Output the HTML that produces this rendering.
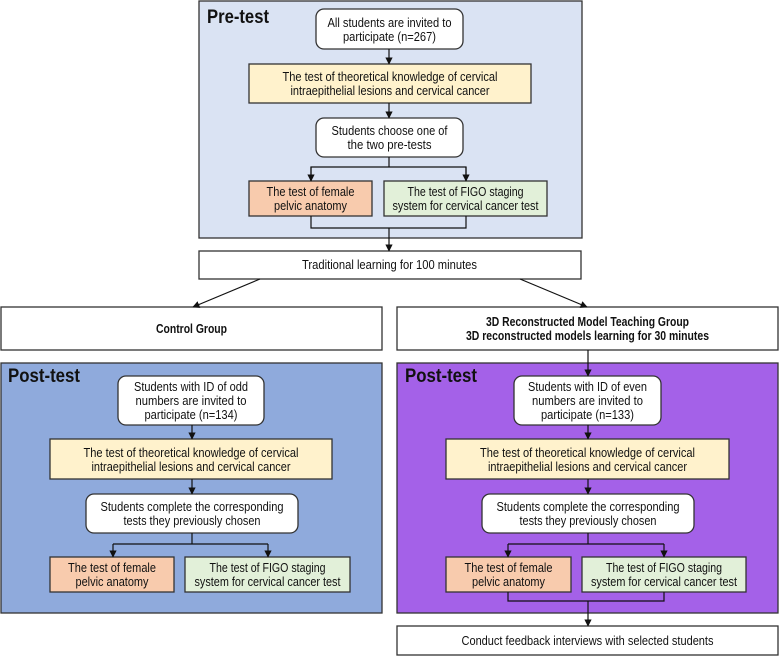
<!DOCTYPE html>
<html><head><meta charset="utf-8"><style>
html,body{margin:0;padding:0;background:#fff;width:779px;height:656px;overflow:hidden}
svg{display:block}
text{font-family:"Liberation Sans",sans-serif;font-size:12.5px;fill:#111;text-anchor:middle}
.b{font-weight:bold}
.t{font-weight:bold;font-size:19px;text-anchor:start}
</style></head><body>
<svg width="779" height="656" viewBox="0 0 779 656" xmlns="http://www.w3.org/2000/svg">
<defs><marker id="a" viewBox="0 0 10 10" refX="9" refY="5" markerWidth="6" markerHeight="6" orient="auto"><path d="M0,0L10,5L0,10z" fill="#111"/></marker></defs>
<g stroke="#333" stroke-width="1.3">
<rect x="199" y="1" width="383" height="237" fill="#dae3f3"/>
<rect x="1" y="363" width="381" height="250" fill="#8faadc"/>
<rect x="397" y="363" width="381" height="250" fill="#a461e8"/>
<rect x="316" y="9" width="147" height="40" rx="8" fill="#fff"/>
<rect x="249" y="64" width="282" height="39" fill="#fff2cc"/>
<rect x="316" y="118" width="147" height="39" rx="8" fill="#fff"/>
<rect x="249" y="181" width="123" height="35" fill="#f8cbad"/>
<rect x="384" y="181" width="163" height="35" fill="#e2f0d9"/>
<rect x="199" y="251" width="382" height="28" fill="#fff"/>
<rect x="1" y="307" width="381" height="43" fill="#fff"/>
<rect x="397" y="307" width="381" height="43" fill="#fff"/>
<rect x="118" y="376" width="146" height="49" rx="8" fill="#fff"/>
<rect x="50" y="439" width="282" height="40" fill="#fff2cc"/>
<rect x="86" y="494" width="212" height="39" rx="8" fill="#fff"/>
<rect x="50" y="557" width="124" height="35" fill="#f8cbad"/>
<rect x="185" y="557" width="165" height="35" fill="#e2f0d9"/>
<rect x="514" y="376" width="147" height="49" rx="8" fill="#fff"/>
<rect x="446" y="439" width="283" height="40" fill="#fff2cc"/>
<rect x="482" y="494" width="212" height="39" rx="8" fill="#fff"/>
<rect x="446" y="557" width="125" height="35" fill="#f8cbad"/>
<rect x="582" y="557" width="164" height="35" fill="#e2f0d9"/>
<rect x="397" y="626" width="381" height="29" fill="#fff"/>
</g>
<g stroke="#111" stroke-width="1.2" fill="none">
<line x1="389" y1="49" x2="389" y2="64" marker-end="url(#a)"/>
<line x1="389" y1="103" x2="389" y2="118" marker-end="url(#a)"/>
<polyline points="389,157 389,167"/>
<polyline points="311,181 311,167 466,167 466,181"/>
<line x1="311" y1="167" x2="311" y2="181" marker-end="url(#a)"/>
<line x1="466" y1="167" x2="466" y2="181" marker-end="url(#a)"/>
<polyline points="311,216 311,228 466,228 466,216"/>
<line x1="389" y1="228" x2="389" y2="251" marker-end="url(#a)"/>
<line x1="260" y1="279" x2="193" y2="307" marker-end="url(#a)"/>
<line x1="520" y1="279" x2="587" y2="307" marker-end="url(#a)"/>
<line x1="192" y1="425" x2="192" y2="439" marker-end="url(#a)"/>
<line x1="192" y1="479" x2="192" y2="494" marker-end="url(#a)"/>
<polyline points="192,533 192,544"/>
<polyline points="113,544 268,544"/>
<line x1="113" y1="544" x2="113" y2="557" marker-end="url(#a)"/>
<line x1="268" y1="544" x2="268" y2="557" marker-end="url(#a)"/>
<line x1="588" y1="350" x2="588" y2="376" marker-end="url(#a)"/>
<line x1="588" y1="425" x2="588" y2="439" marker-end="url(#a)"/>
<line x1="588" y1="479" x2="588" y2="494" marker-end="url(#a)"/>
<polyline points="588,533 588,544"/>
<polyline points="508,544 664,544"/>
<line x1="508" y1="544" x2="508" y2="557" marker-end="url(#a)"/>
<line x1="664" y1="544" x2="664" y2="557" marker-end="url(#a)"/>
<polyline points="508,592 508,601 664,601 664,592"/>
<line x1="588" y1="601" x2="588" y2="626" marker-end="url(#a)"/>
</g>
<text class="t" x="207" y="23" textLength="62" lengthAdjust="spacingAndGlyphs">Pre-test</text>
<text class="t" x="8" y="382" textLength="72" lengthAdjust="spacingAndGlyphs">Post-test</text>
<text class="t" x="405" y="382" textLength="72" lengthAdjust="spacingAndGlyphs">Post-test</text>
<g>
<text x="389.5" y="27" textLength="124" lengthAdjust="spacingAndGlyphs">All students are invited to</text>
<text x="389.5" y="41" textLength="93" lengthAdjust="spacingAndGlyphs">participate (n=267)</text>
<text x="390" y="81" textLength="215" lengthAdjust="spacingAndGlyphs">The test of theoretical knowledge of cervical</text>
<text x="390" y="95" textLength="199" lengthAdjust="spacingAndGlyphs">intraepithelial lesions and cervical cancer</text>
<text x="389.5" y="135" textLength="116" lengthAdjust="spacingAndGlyphs">Students choose  one of</text>
<text x="389.5" y="149" textLength="84" lengthAdjust="spacingAndGlyphs">the two pre-tests</text>
<text x="310.5" y="196" textLength="88" lengthAdjust="spacingAndGlyphs">The test of female</text>
<text x="310.5" y="210" textLength="73" lengthAdjust="spacingAndGlyphs">pelvic anatomy</text>
<text x="465.5" y="196" textLength="116" lengthAdjust="spacingAndGlyphs">The test of FIGO staging</text>
<text x="465.5" y="210" textLength="146" lengthAdjust="spacingAndGlyphs">system for cervical cancer test</text>
<text x="389.5" y="269" textLength="175" lengthAdjust="spacingAndGlyphs">Traditional learning for 100 minutes</text>
<text class="b" x="191.5" y="333" textLength="71" lengthAdjust="spacingAndGlyphs">Control Group</text>
<text class="b" x="587.5" y="326" textLength="203" lengthAdjust="spacingAndGlyphs">3D Reconstructed Model Teaching Group</text>
<text class="b" x="587.5" y="340" textLength="243" lengthAdjust="spacingAndGlyphs">3D reconstructed models learning for 30 minutes</text>
<text x="191" y="391" textLength="114" lengthAdjust="spacingAndGlyphs">Students with ID of odd</text>
<text x="191" y="405" textLength="111" lengthAdjust="spacingAndGlyphs">numbers are invited to</text>
<text x="191" y="419" textLength="93" lengthAdjust="spacingAndGlyphs">participate (n=134)</text>
<text x="191" y="457" textLength="215" lengthAdjust="spacingAndGlyphs">The test of theoretical knowledge of cervical</text>
<text x="191" y="471" textLength="199" lengthAdjust="spacingAndGlyphs">intraepithelial lesions and cervical cancer</text>
<text x="192" y="511" textLength="183" lengthAdjust="spacingAndGlyphs">Students complete the corresponding</text>
<text x="192" y="525" textLength="137" lengthAdjust="spacingAndGlyphs">tests they previously chosen</text>
<text x="112" y="572" textLength="88" lengthAdjust="spacingAndGlyphs">The test of female</text>
<text x="112" y="586" textLength="73" lengthAdjust="spacingAndGlyphs">pelvic anatomy</text>
<text x="267.5" y="572" textLength="116" lengthAdjust="spacingAndGlyphs">The test of FIGO staging</text>
<text x="267.5" y="586" textLength="146" lengthAdjust="spacingAndGlyphs">system for cervical cancer test</text>
<text x="587.5" y="391" textLength="119" lengthAdjust="spacingAndGlyphs">Students with ID of even</text>
<text x="587.5" y="405" textLength="111" lengthAdjust="spacingAndGlyphs">numbers are invited to</text>
<text x="587.5" y="419" textLength="93" lengthAdjust="spacingAndGlyphs">participate (n=133)</text>
<text x="587.5" y="457" textLength="215" lengthAdjust="spacingAndGlyphs">The test of theoretical knowledge of cervical</text>
<text x="587.5" y="471" textLength="199" lengthAdjust="spacingAndGlyphs">intraepithelial lesions and cervical cancer</text>
<text x="588" y="511" textLength="183" lengthAdjust="spacingAndGlyphs">Students complete the corresponding</text>
<text x="588" y="525" textLength="137" lengthAdjust="spacingAndGlyphs">tests they previously chosen</text>
<text x="508.5" y="572" textLength="88" lengthAdjust="spacingAndGlyphs">The test of female</text>
<text x="508.5" y="586" textLength="73" lengthAdjust="spacingAndGlyphs">pelvic anatomy</text>
<text x="664" y="572" textLength="116" lengthAdjust="spacingAndGlyphs">The test of FIGO staging</text>
<text x="664" y="586" textLength="146" lengthAdjust="spacingAndGlyphs">system for cervical cancer test</text>
<text x="587.5" y="645" textLength="252" lengthAdjust="spacingAndGlyphs">Conduct feedback interviews with selected students</text>
</g>
</svg>
</body></html>
